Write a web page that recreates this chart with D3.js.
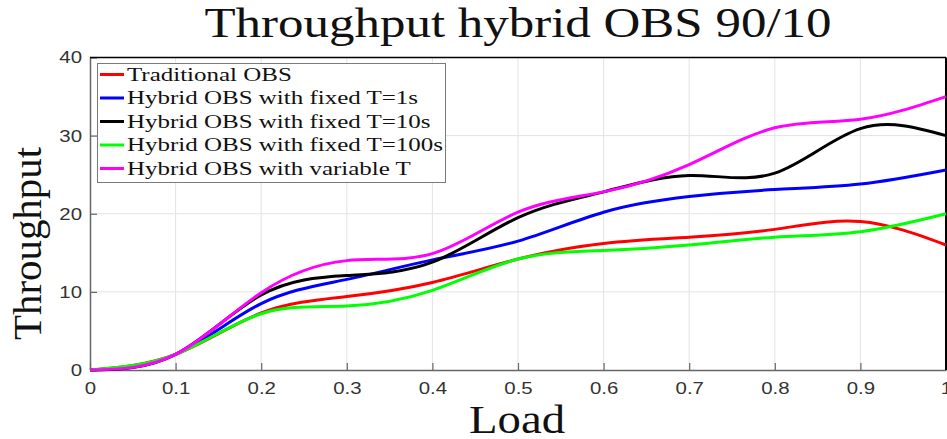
<!DOCTYPE html>
<html>
<head>
<meta charset="utf-8">
<script src="https://cdn.jsdelivr.net/npm/d3@7"></script>
<style>
  body { margin: 0; background: #fff; }
  svg { display: block; }
</style>
</head>
<body>
<div id="chartContainer"></div>
<script>
// values
const loads = [0, 0.1, 0.2, 0.3, 0.4, 0.5, 0.6, 0.7, 0.8, 0.9, 1];
const traditional = [0, 2, 7.3, 9.4, 11.2, 14.2, 16.2, 17, 18, 19, 16];
const fixed1s = [0, 2, 8.5, 11.6, 14.1, 16.5, 20.2, 22.2, 23.1, 23.8, 25.6];
const fixed10s = [0, 2, 9.6, 12.1, 13.8, 19.5, 22.8, 24.9, 25.2, 30.9, 30];
const fixed100s = [0, 2, 7.2, 8.2, 10.2, 14.2, 15.3, 16, 17, 17.7, 20];
const variableT = [0, 2, 9.9, 14, 14.9, 20.2, 22.8, 26.3, 31, 32.1, 35];

const seriesNames = [
	"Traditional OBS",
	"Hybrid OBS with fixed T=1s",
	"Hybrid OBS with fixed T=10s",
	"Hybrid OBS with fixed T=100s",
	"Hybrid OBS with variable T"
];
const seriesValues = [traditional, fixed1s, fixed10s, fixed100s, variableT];
const colors = ["#ff0000", "#0000ff", "#000000", "#00ff00", "#ff00ff"];

const xTicks = [0, 0.1, 0.2, 0.3, 0.4, 0.5, 0.6, 0.7, 0.8, 0.9, 1];
const xTickLabels = ["0", "0.1", "0.2", "0.3", "0.4", "0.5", "0.6", "0.7", "0.8", "0.9", "1"];
const yTicks = [0, 10, 20, 30, 40];

const width = 947;
const height = 439;
const serif = "'Liberation Serif', 'DejaVu Serif', serif";
const sans = "'Liberation Sans', Arial, sans-serif";

let svg = d3
	.select("#chartContainer")
	.append("svg")
	.attr("width", width)
	.attr("height", height);

let xScale = d3.scaleLinear().domain([0, 1]).range([90, 946]);
let yScale = d3.scaleLinear().domain([0, 40]).range([370, 57.5]);

// grid
svg.append("g")
	.selectAll("line")
	.data(xTicks.slice(1, -1))
	.join("line")
	.attr("x1", (d) => xScale(d))
	.attr("x2", (d) => xScale(d))
	.attr("y1", yScale(0))
	.attr("y2", yScale(40))
	.attr("stroke", "#e3e3e3")
	.attr("stroke-width", 1);

svg.append("g")
	.selectAll("line")
	.data(yTicks.slice(1, -1))
	.join("line")
	.attr("x1", xScale(0))
	.attr("x2", xScale(1))
	.attr("y1", (d) => yScale(d))
	.attr("y2", (d) => yScale(d))
	.attr("stroke", "#e3e3e3")
	.attr("stroke-width", 1);

// stretch text horizontally a bit, the reference picture is widened
function widen(sel, factor) {
	sel.each(function () {
		let len = this.getComputedTextLength();
		d3.select(this)
			.attr("textLength", len * factor)
			.attr("lengthAdjust", "spacingAndGlyphs");
	});
}

// axes
let xAxis = svg.append("g")
	.attr("transform", `translate(0,${yScale(0)})`)
	.call(d3.axisBottom(xScale)
		.tickValues(xTicks)
		.tickFormat((d, i) => xTickLabels[i])
		.tickSizeInner(-7)
		.tickSizeOuter(0)
		.tickPadding(12));

let yAxis = svg.append("g")
	.attr("transform", `translate(${xScale(0)},0)`)
	.call(d3.axisLeft(yScale)
		.tickValues(yTicks)
		.tickSizeInner(-7)
		.tickSizeOuter(0)
		.tickPadding(8));

[xAxis, yAxis].forEach((ax) => {
	ax.select(".domain").attr("stroke", "#666").attr("stroke-width", 1.5);
	ax.selectAll(".tick line").attr("stroke", "#666").attr("stroke-width", 1.2);
	ax.selectAll(".tick text")
		.attr("fill", "#333")
		.style("font-family", sans)
		.style("font-size", "17px");
	widen(ax.selectAll(".tick text"), 1.2);
});

// box top and right
svg.append("line")
	.attr("x1", xScale(0)).attr("x2", xScale(1))
	.attr("y1", yScale(40)).attr("y2", yScale(40))
	.attr("stroke", "#000").attr("stroke-width", 1.5);
svg.append("line")
	.attr("x1", xScale(1)).attr("x2", xScale(1))
	.attr("y1", yScale(40)).attr("y2", yScale(0))
	.attr("stroke", "#000").attr("stroke-width", 2);

// lines
let line = d3.line()
	.x((d, i) => xScale(loads[i]))
	.y((d) => yScale(d))
	.curve(d3.curveNatural);

svg.append("g")
	.selectAll("path")
	.data(seriesValues)
	.join("path")
	.attr("d", (d) => line(d))
	.attr("fill", "none")
	.attr("stroke", (d, i) => colors[i])
	.attr("stroke-width", 3)
	.attr("stroke-linejoin", "round");

// legend
let legend = svg.append("g");
legend.append("rect")
	.attr("x", 97.5)
	.attr("y", 63.5)
	.attr("width", 348)
	.attr("height", 119)
	.attr("fill", "#fff")
	.attr("stroke", "#7a7a7a")
	.attr("stroke-width", 1);

let rows = legend.selectAll(".row")
	.data(seriesNames)
	.join("g")
	.attr("class", "row")
	.attr("transform", (d, i) => `translate(0,${80.5 + i * 23.5})`);

rows.append("line")
	.attr("x1", 100).attr("x2", 124)
	.attr("y1", -6).attr("y2", -6)
	.attr("stroke", (d, i) => colors[i])
	.attr("stroke-width", 3);

let legendText = rows.append("text")
	.attr("x", 127)
	.attr("y", 0)
	.style("font-family", serif)
	.style("font-size", "19px")
	.attr("fill", "#111")
	.text((d) => d);

// scale all legend labels by the same factor so the longest fits 316px
let longest = d3.max(legendText.nodes(), (n) => n.getComputedTextLength());
widen(legendText, 316 / longest);

// titles
let title = svg.append("text")
	.attr("x", 518)
	.attr("y", 37)
	.attr("text-anchor", "middle")
	.style("font-family", serif)
	.style("font-size", "42px")
	.attr("fill", "#111")
	.text("Throughput hybrid OBS 90/10");
title.attr("textLength", 627).attr("lengthAdjust", "spacingAndGlyphs");

let xLabel = svg.append("text")
	.attr("x", 517)
	.attr("y", 433)
	.attr("text-anchor", "middle")
	.style("font-family", serif)
	.style("font-size", "41px")
	.attr("fill", "#111")
	.text("Load");
xLabel.attr("textLength", 96).attr("lengthAdjust", "spacingAndGlyphs");

let yLabel = svg.append("text")
	.attr("transform", "translate(41,243.5) rotate(-90)")
	.attr("text-anchor", "middle")
	.style("font-family", serif)
	.style("font-size", "41px")
	.attr("fill", "#111")
	.text("Throughput");
yLabel.attr("textLength", 193).attr("lengthAdjust", "spacingAndGlyphs");
</script>
</body>
</html>
